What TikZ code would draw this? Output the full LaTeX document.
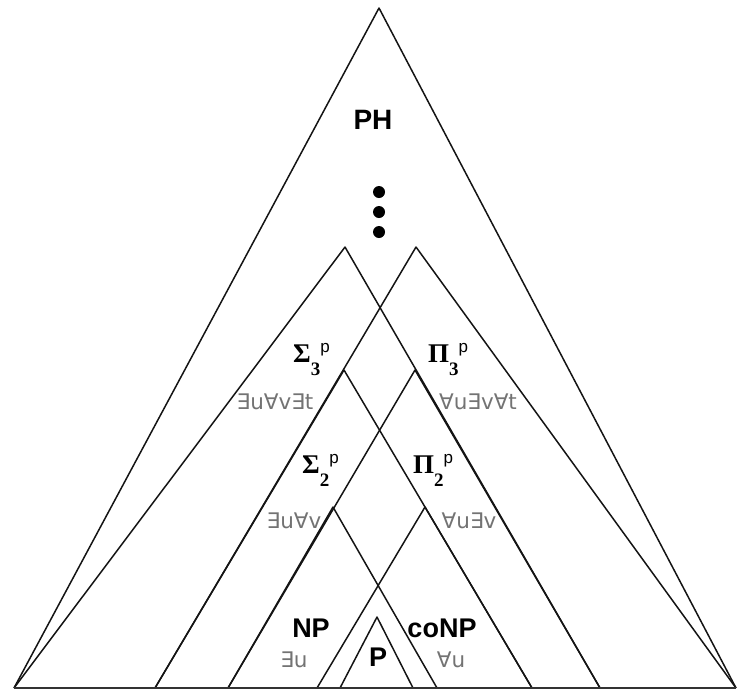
\documentclass[tikz,border=0pt]{standalone}
\usepackage{fontspec}
\setmainfont{Liberation Sans}
\newfontfamily\grkfont{Liberation Serif}
\newfontfamily\qntfont{DejaVu Sans}
\usetikzlibrary{positioning}
\tikzset{edge/.style={line width=1.5pt,black!92,line join=round},
  base/.style={line width=2.6pt,black!80},
  cls/.style={font=\fontsize{27}{27}\selectfont\bfseries,inner sep=0pt},
  qnt/.style={font=\qntfont\fontsize{21.5}{21.5}\selectfont,text=black!55,inner sep=0pt},
  lvl/.style={anchor=base west,inner sep=0pt},
  dot/.style={circle,fill=black,inner sep=0pt,minimum size=12pt}}
\newcommand{\hier}[2]{{\grkfont\bfseries\fontsize{27}{27}\selectfont #1}%
  \raisebox{-13pt}{\grkfont\bfseries\fontsize{19}{19}\selectfont #2}%
  \raisebox{10pt}{\fontsize{17}{17}\selectfont p}}

\begin{document}
\begin{tikzpicture}[x=1pt,y=-1pt]
\useasboundingbox (0,0) rectangle (738,691);
\coordinate (ph) at (379,8);
\coordinate (bl) at (14,688);
\coordinate (br) at (736,688);
\coordinate (s3) at (345,247);
\coordinate (s3r) at (600,688);
\coordinate (p3) at (416,247);
\coordinate (p3l) at (155,688);
\coordinate (s2) at (344,370);
\coordinate (s2r) at (532,688);
\coordinate (p2) at (415,370);
\coordinate (p2l) at (228,688);
\coordinate (np) at (333,507);
\coordinate (npr) at (437,688);
\coordinate (conp) at (425,507);
\coordinate (conpl) at (317,688);
\coordinate (pp) at (377,617);
\coordinate (ppl) at (340,688);
\coordinate (ppr) at (413,688);
\draw[edge] (bl) -- (ph) -- (br);
\draw[edge] (bl) -- (s3) -- (s3r);
\draw[edge] (p3l) -- (p3) -- (br);
\draw[edge] (p3l) -- (s2) -- (s2r);
\draw[edge] (p2l) -- (p2) -- (s3r);
\draw[edge] (p2l) -- (np) -- (npr);
\draw[edge] (conpl) -- (conp) -- (s2r);
\draw[edge] (ppl) -- (pp) -- (ppr);
\draw[base] (bl) -- (br);
\node[cls,font=\fontsize{28}{28}\selectfont\bfseries] (phl) at (373,120) {PH};
\node[dot] (d1) at (379,192) {};
\node[dot] (d2) at (379,212) {};
\node[dot] (d3) at (379,232) {};
\node[lvl] (sig3) at (293,362) {\hier{Σ}{3}};
\node[lvl] (pi3) at (428,362) {\hier{Π}{3}};
\node[lvl] (sig2) at (302,473) {\hier{Σ}{2}};
\node[lvl] (pi2) at (413,473) {\hier{Π}{2}};
\node[qnt] (q3s) at (275,402) {∃u∀v∃t};
\node[qnt] (q3p) at (478,402) {∀u∃v∀t};
\node[qnt] (q2s) at (294,521) {∃u∀v};
\node[qnt] (q2p) at (469,521) {∀u∃v};
\node[cls] (npl) at (311,628) {NP};
\node[cls] (conpl2) at (442,628) {coNP};
\node[qnt] (q1s) at (294,660) {∃u};
\node[qnt] (q1p) at (451,660) {∀u};
\node[cls] (pl) at (378,657) {P};
\end{tikzpicture}
\end{document}
